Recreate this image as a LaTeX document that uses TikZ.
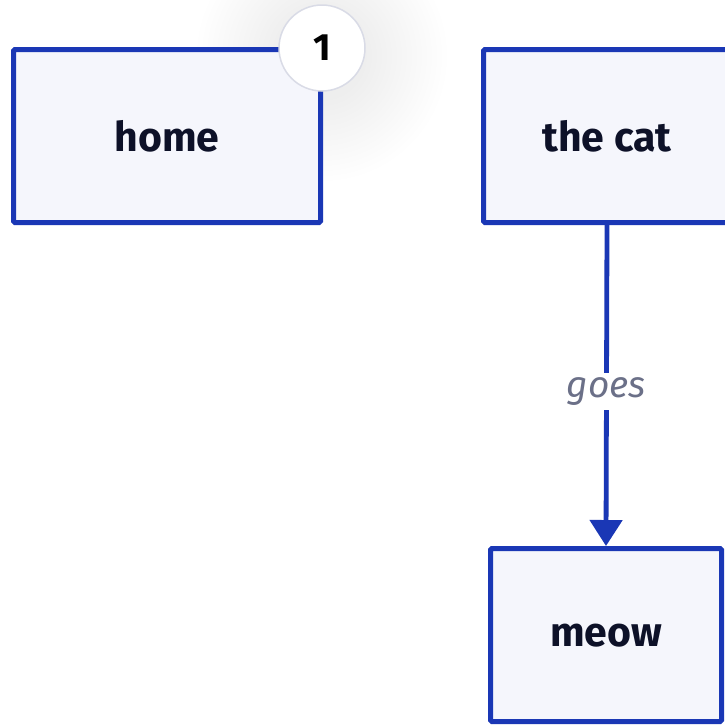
\documentclass[tikz,border=0pt]{standalone}
\usepackage{fontspec}
\setmainfont{Fira Sans}
\usetikzlibrary{arrows.meta}
\definecolor{edgeblue}{HTML}{1A37B5}
\definecolor{boxfill}{HTML}{F5F6FC}
\definecolor{inkdark}{HTML}{0D1128}
\definecolor{labelgray}{HTML}{6B7088}
\definecolor{badgeline}{HTML}{D9DBE6}
\tikzset{
  box/.style={draw=edgeblue, line width=5pt, fill=boxfill, rounded corners=1.5pt,
    text=inkdark, font=\fontsize{41}{48}\selectfont\bfseries, inner sep=0pt},
  link/.style={draw=edgeblue, line width=4.8pt, -{Triangle[width=32pt,length=26pt]}},
  linklabel/.style={fill=white, text=labelgray, font=\fontsize{37}{44}\selectfont\itshape, inner sep=5pt},
  badge/.style={circle, draw=badgeline, line width=1.5pt, fill=white, minimum size=86pt,
    inner sep=0pt, text=black, font=\fontsize{38}{44}\selectfont\bfseries}
}
\begin{document}
\begin{tikzpicture}[x=1pt,y=-1pt]
\useasboundingbox[fill=white] (0,0) rectangle (725,724);
\foreach \r in {125,120,...,45}
  \fill[black, opacity=0.0025] (322,56) circle (\r);
\node[box, minimum width=307pt, minimum height=173pt] (home) at (167,136) {home};
\node[box, minimum width=247pt, minimum height=173pt] (cat) at (607,136) {the cat};
\node[box, minimum width=231pt, minimum height=173pt, text depth=-4pt] (meow) at (606,635) {meow};
\draw[link] (cat.south) -- node[linklabel, yshift=-6pt] (goes) {goes} (meow.north);
\node[badge] (one) at (322,48) {1};
\end{tikzpicture}
\end{document}
